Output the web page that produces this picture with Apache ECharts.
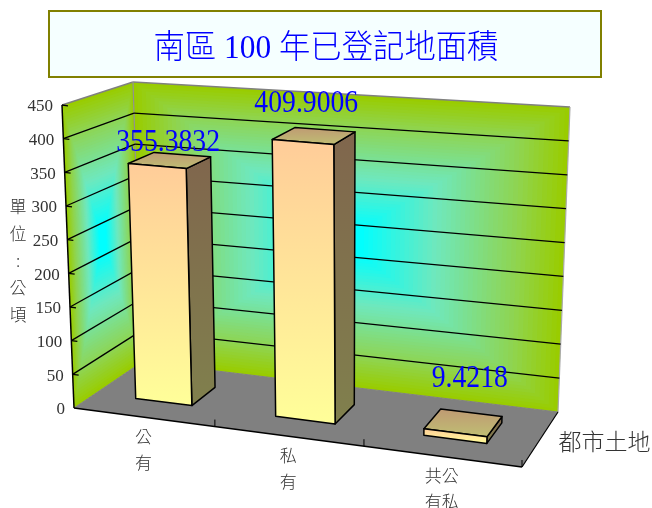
<!DOCTYPE html>
<html><head><meta charset="utf-8">
<style>html,body{margin:0;padding:0;background:#fff}#c{width:652px;height:508px}</style>
<script src="https://cdn.jsdelivr.net/npm/echarts@6/dist/echarts.min.js"></script>
</head><body><div id="c"></div>
<script>
var titleText = '南區 100 年已登記地面積';
var seriesName = '都市土地';
var categories = ['公\n有', '私\n有', '共公\n有私'];
var values = [355.3832, 409.9006, 9.4218];
var valueLabels = ['355.3832', '409.9006', '9.4218'];
var yTicks = [0, 50, 100, 150, 200, 250, 300, 350, 400, 450];
var unitLabel = '單\n位\n:\n公\n頃';

/* layout of the 3D box (pixels), not data */
var C = {
  A: [74, 408], B: [522, 467], D: [142, 362], Cc: [558, 412],
  E: [62, 105], H: [526, 146], F: [133, 82], G: [570, 107]
};
var labelNudge = [[-1.5, -17.5], [-7.5, -32], [6.6, -44.6]];
var serif = '"Liberation Serif","Noto Sans CJK TC"';
var cjk = '"Noto Sans CJK TC"';
var textGrey = '#333';
var W0 = 0.32, W1 = 0.70, BAR = 0.408;

function warp(u) { return u / (u + 1.09 * (1 - u)); }
function lerp(a, b, t) { return [a[0] + (b[0] - a[0]) * t, a[1] + (b[1] - a[1]) * t]; }
function P(u, w, v) {
  var s = warp(u);
  var bot = lerp(lerp(C.A, C.B, s), lerp(C.D, C.Cc, s), w);
  var top = lerp(lerp(C.E, C.H, s), lerp(C.F, C.G, s), w);
  return lerp(bot, top, v);
}
var wallStops = [[0, [153, 204, 0]], [0.2, [143, 212, 80]], [0.56, [110, 232, 190]], [0.9, [0, 255, 255]], [1, [0, 255, 255]]];
function wallColor(t) {
  for (var k = 1; k < wallStops.length; k++) {
    if (t <= wallStops[k][0]) {
      var a = wallStops[k - 1], b = wallStops[k], f = (t - a[0]) / (b[0] - a[0]);
      return 'rgb(' + [0, 1, 2].map(function (i) { return Math.round(a[1][i] + (b[1][i] - a[1][i]) * f); }).join(',') + ')';
    }
  }
  return 'rgb(0,255,255)';
}
function poly(points, style) { return { type: 'polygon', shape: { points: points }, style: style }; }
function line(a, b, stroke, width) {
  return { type: 'line', shape: { x1: a[0], y1: a[1], x2: b[0], y2: b[1] }, style: { stroke: stroke, lineWidth: width, fill: null } };
}
function vg(a, b) {
  return { type: 'linear', x: 0, y: 0, x2: 0, y2: 1, colorStops: [{ offset: 0, color: a }, { offset: 1, color: b }] };
}
function pathGradient(face) {
  var kids = [], steps = 48;
  for (var i = 0; i <= steps; i++) {
    var t = i / steps, m = t / 2, n = 1 - m;
    kids.push(poly([face(m, m), face(n, m), face(n, n), face(m, n)], { fill: wallColor(t), stroke: null }));
  }
  return kids;
}
function frameItem() {
  var kids = [];
  kids.push(poly([P(0, 0, 0), P(1, 0, 0), P(1, 1, 0), P(0, 1, 0)], { fill: '#808080', stroke: null }));
  kids = kids.concat(pathGradient(function (a, b) { return P(0, a, b); }));
  kids = kids.concat(pathGradient(function (a, b) { return P(a, 1, b); }));
  kids.push(line(P(0, 1, 1), P(1, 1, 1), '#808080', 1.5));
  kids.push(line(P(0, 0, 1), P(0, 1, 1), '#808080', 1.5));
  kids.push(line(P(0, 1, 0), P(0, 1, 1), '#909090', 1.2));
  kids.push(line(P(1, 1, 0), P(1, 1, 1), '#aaaaaa', 1.2));
  kids.push(line(P(0, 0, 0), P(0, 1, 0), '#808080', 1));
  kids.push(line(P(0, 1, 0), P(1, 1, 0), '#808080', 1));
  return { type: 'group', children: kids };
}
function frontItem() {
  var kids = [];
  kids.push(line(P(0, 0, 0), P(0, 0, 1), '#000', 1.5));
  kids.push(line(P(0, 0, 0), P(1, 0, 0), '#000', 1.5));
  kids.push(line(P(1, 0, 0), P(1, 1, 0), '#000', 1.2));
  [1 / 3, 2 / 3, 1].forEach(function (u) {
    var p = P(u, 0, 0);
    kids.push(line(p, [p[0], p[1] - 7], '#000', 1));
  });
  kids.push({ type: 'text', x: 604.5, y: 441, style: { text: seriesName, fontFamily: cjk, fontSize: 23, fontWeight: 300, fill: textGrey, align: 'center', verticalAlign: 'middle' } });
  return { type: 'group', children: kids };
}
function uvOf(api, x, val) {
  var p = api.coord([x, val]);
  return [p[0] / 652, (508 - p[1]) / 508];
}
function gridItem(params, api) {
  var val = api.value(1);
  var uv = uvOf(api, 0, val), v = uv[1], kids = [];
  var a = P(0, 0, v), b = P(0, 1, v), c = P(1, 1, v);
  if (val > 0) {
    if (val < 450) {
      kids.push(line(a, b, '#000', 1.3));
      kids.push(line(b, c, '#000', 1.3));
    }
    kids.push(line(a, [a[0] + 6, a[1] + 0.8], '#000', 1.3));
  }
  kids.push({ type: 'text', x: a[0] - 9, y: a[1] + 2, style: { text: String(val), fontFamily: serif, fontSize: 17, fill: textGrey, align: 'right', verticalAlign: 'middle' } });
  return { type: 'group', children: kids };
}
function barItem(params, api) {
  var i = api.value(0), val = api.value(1);
  var cu = uvOf(api, i, 0)[0];
  var half = api.size([1, 0])[0] / 652 * BAR / 2;
  var v = uvOf(api, i, val)[1];
  var u0 = cu - half, u1 = cu + half;
  var f00 = P(u0, W0, 0), f10 = P(u1, W0, 0), f01 = P(u0, W0, v), f11 = P(u1, W0, v);
  var b10 = P(u1, W1, 0), b11 = P(u1, W1, v), b01 = P(u0, W1, v);
  var edge = { stroke: '#000', lineWidth: 1.5, lineJoin: 'round' };
  function st(fill) { return Object.assign({ fill: fill }, edge); }
  var topC = P(cu, (W0 + W1) / 2, v);
  var n = labelNudge[i];
  return { type: 'group', children: [
    poly([f10, b10, b11, f11], st(vg('#80664D', '#80804D'))),
    poly([f01, f11, b11, b01], st(vg('#BF9973', '#BFBF73'))),
    poly([f00, f10, f11, f01], st(vg('#FFCC99', '#FFFF99'))),
    { type: 'text', x: topC[0] + n[0], y: topC[1] + n[1], scaleX: 0.85,
      style: { text: valueLabels[i], fontFamily: serif, fontSize: 32.6, fill: '#0000ff', align: 'center', verticalAlign: 'middle' } },
    { type: 'text', x: P(cu, 0, 0)[0], y: P(cu, 0, 0)[1] + 6, style: { text: categories[i], fontFamily: cjk, fontSize: 17, fontWeight: 300, lineHeight: 26, fill: textGrey, align: 'center', verticalAlign: 'top' } }
  ] };
}
var chart = echarts.init(document.getElementById('c'), null, { renderer: 'canvas' });
chart.setOption({
  animation: false,
  backgroundColor: '#fff',
  tooltip: { show: false },
  grid: { left: 0, right: 0, top: 0, bottom: 0 },
  xAxis: { type: 'category', data: categories, show: false },
  yAxis: { type: 'value', min: 0, max: 450, interval: 50, show: false },
  graphic: [
    { type: 'rect', z: 0, shape: { x: 49, y: 11, width: 552, height: 66 }, style: { fill: '#F5FFFF', stroke: '#808000', lineWidth: 2 } },
    { type: 'text', x: 326, y: 49, z: 1, scaleX: 0.95, style: { text: titleText, fontFamily: serif, fontSize: 33, fontWeight: 300, fill: '#0000ff', align: 'center', verticalAlign: 'middle' } },
    { type: 'text', x: 18, y: 261, z: 1, style: { text: unitLabel, fontFamily: cjk, fontSize: 17, fontWeight: 300, lineHeight: 27, fill: textGrey, align: 'center', verticalAlign: 'middle' } }
  ],
  series: [
    { type: 'custom', name: 'frame', silent: true, z: 1, data: [[0, 0]], renderItem: frameItem, clip: false },
    { type: 'custom', name: 'grid', silent: true, z: 2, data: yTicks.map(function (t) { return [0, t]; }), renderItem: gridItem, clip: false },
    { type: 'custom', name: 'front', silent: true, z: 3, data: [[0, 0]], renderItem: frontItem, clip: false },
    { type: 'custom', name: seriesName, silent: true, z: 4, data: values.map(function (v, i) { return [i, v]; }), renderItem: barItem, clip: false }
  ]
});
</script></body></html>
